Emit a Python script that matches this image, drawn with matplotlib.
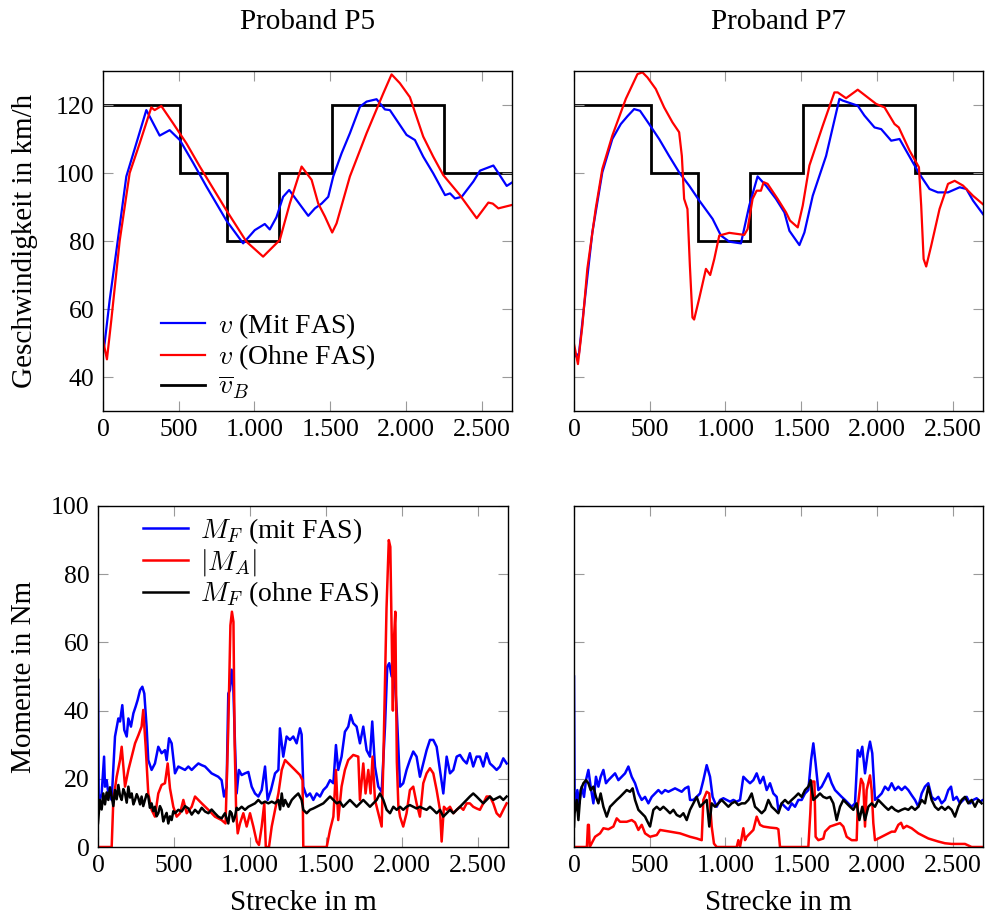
import matplotlib
matplotlib.use("Agg")
import matplotlib.pyplot as plt
from matplotlib.ticker import FuncFormatter

plt.rcParams['font.family'] = ['Liberation Serif', 'DejaVu Serif']
plt.rcParams['mathtext.fontset'] = 'cm'

# --- Geschwindigkeitsvorgabe (Stufen) ---
limit_edges = [0, 510, 820, 1160, 1515, 2250, 2700]
limit_v = [120, 100, 80, 100, 120, 100]

# --- Proband P5: Geschwindigkeit ---
p5_mit_x = [0, 11, 44, 88, 154, 220, 286, 374, 440, 507, 595, 683, 815, 925, 1002, 1068, 1101,
            1145, 1189, 1229, 1355, 1399, 1443, 1487, 1520, 1575, 1630, 1696, 1740, 1806, 1861,
            1894, 2004, 2059, 2114, 2180, 2258, 2291, 2324, 2368, 2445, 2489, 2577, 2610, 2665, 2700]
p5_mit_v = [47, 50, 62.6, 77, 99, 108.7, 118.5, 111, 112.6, 109.7, 103, 96, 86, 79.3, 83.2, 85, 83.4,
            87, 93, 95, 87.4, 89.6, 91, 93, 99, 105.8, 111.7, 119.5, 121, 121.7, 118.7,
            118.5, 111.2, 109.7, 104.8, 99.9, 93.5, 94, 92.5, 93, 97.5, 100.7, 102.2, 100, 96.2, 97.2]

p5_ohne_x = [0, 4, 26, 55, 110, 176, 242, 319, 341, 385, 463, 551, 639, 815, 947, 1057, 1167, 1233,
             1311, 1377, 1421, 1465, 1513, 1542, 1630, 1740, 1850, 1905, 1960, 2026, 2114, 2180,
             2246, 2356, 2467, 2544, 2573, 2610, 2700]
p5_ohne_v = [52, 50, 45.2, 56.8, 80, 100, 108.7, 119.3, 118.5, 119.7, 114.6, 108.7, 101.9, 89, 79.8,
             75.4, 80.3, 91, 101.9, 98, 91, 87.2, 82.5, 85.2, 99, 111.7, 123.4, 129, 126.4, 122.3,
             110.7, 104.8, 99.4, 93.5, 86.7, 91.3, 91, 89.6, 90.6]

# --- Proband P7: Geschwindigkeit ---
p7_mit_x = [0, 15, 33, 77, 121, 187, 253, 309, 353, 397, 436, 496, 562, 628, 694, 760, 827, 915, 970,
            1025, 1102, 1157, 1212, 1267, 1333, 1389, 1422, 1488, 1521, 1576, 1664, 1752, 1774, 1873,
            1917, 1984, 2028, 2094, 2149, 2237, 2281, 2347, 2402, 2469, 2546, 2590, 2634, 2700]
p7_mit_v = [48, 46, 47, 65, 82.5, 100.2, 110, 114.4, 116.7, 118.8, 118.3, 114.4, 110, 105, 100.2, 96.3,
            91.9, 86.5, 81.6, 79.8, 79.3, 90.4, 99, 96.3, 92.4, 88.4, 83, 78.8, 82.5, 93.3, 105, 121.8,
            121.3, 119.8, 116.9, 113.4, 112.9, 109.5, 110, 103.1, 99.7, 95.3, 94.3, 94.3, 95.8, 95.3,
            91.9, 87.9]

p7_ohne_x = [0, 26, 55, 88, 143, 187, 253, 342, 419, 452, 485, 540, 595, 650, 694, 712, 727, 749, 765,
             782, 793, 826, 871, 899, 926, 959, 1025, 1124, 1146, 1179, 1206, 1234, 1252, 1278, 1344,
             1400, 1426, 1477, 1510, 1554, 1642, 1719, 1741, 1796, 1873, 1995, 2050, 2116, 2144, 2215,
             2277, 2292, 2308, 2325, 2358, 2413, 2469, 2513, 2568, 2634, 2700]
p7_ohne_v = [49.7, 43.8, 55, 71.8, 89.4, 101.2, 111, 121.8, 129.1, 129.6, 128.1, 124.7, 119.3, 114.9,
             112, 105, 92.4, 89.4, 72.7, 57.5, 56.9, 63, 71.8, 70, 74.7, 81.6, 82.4, 81.8, 83.5, 92.4,
             94.8, 94.8, 97.3, 96.8, 92.4, 88.4, 86, 84, 90.4, 102.2, 113.9, 123.7, 123.7, 122, 124.5,
             120.3, 119.3, 114.4, 113.4, 106.6, 101.7, 90.4, 74.7, 72.5, 78.6, 89.4, 96.8, 97.7, 96.3,
             93.3, 90.8]

# --- Proband P5: Momente ---
p5_mf_mit_x = [0, 5, 13, 24, 40, 46, 57, 68, 90, 112, 134, 145, 160, 173, 189, 200, 217, 233, 248, 261,
               277, 292, 305, 320, 331, 353, 375, 397, 419, 441, 452, 468, 485, 507, 529, 551, 573, 595,
               617, 639, 661, 683, 705, 727, 748, 770, 792, 814, 830, 847, 858, 869, 880, 891, 902, 913,
               928, 946, 968, 990, 1012, 1034, 1056, 1078, 1100, 1117, 1139, 1166, 1188, 1198, 1220,
               1242, 1264, 1286, 1308, 1330, 1341, 1352, 1374, 1396, 1418, 1440, 1462, 1484, 1506, 1528,
               1550, 1567, 1582, 1604, 1626, 1648, 1664, 1681, 1703, 1725, 1747, 1769, 1791, 1806, 1824,
               1846, 1868, 1890, 1905, 1918, 1934, 1949, 1967, 1989, 2010, 2032, 2054, 2076, 2098, 2120,
               2142, 2164, 2186, 2208, 2230, 2252, 2274, 2296, 2318, 2340, 2362, 2384, 2406, 2428, 2449,
               2471, 2493, 2515, 2537, 2559, 2581, 2603, 2625, 2647, 2669, 2691]
p5_mf_mit = [49, 12.8, 14, 15.7, 26.5, 17.7, 19.6, 15.7, 13.8, 32.4, 37.7, 36.8, 41.6, 34.3, 32.4, 37.7,
             35.3, 39.2, 41.2, 43.1, 46, 47, 45, 35.3, 25.5, 22.6, 24.5, 29.4, 27.5, 28.4, 25.5, 31.9,
             30.4, 21.6, 23.6, 23.1, 22.6, 23.6, 22.6, 23.6, 24.5, 24, 23.6, 22.6, 21.6, 21.1, 20.6,
             19.6, 14.8, 17.7, 45, 46, 52, 47, 30.4, 15.7, 22.6, 21.1, 21.6, 22, 17.7, 15.7, 14.8, 16.7,
             23.6, 13.8, 16.7, 21.6, 22.6, 34.8, 26.5, 32.4, 31.4, 32.4, 30.4, 34.8, 33, 17.7, 14.8,
             15.7, 13.8, 15.7, 14.8, 16.7, 17.7, 19.6, 18.7, 29.9, 22.6, 26.5, 33.8, 35.3, 38.7, 36.3,
             35.3, 30.4, 35.3, 28.4, 26.5, 36.8, 23.6, 17.7, 16.2, 35.3, 52.9, 53.9, 50, 52.9, 40.2,
             17.7, 18.7, 22.6, 25.5, 28, 26.5, 20.6, 24.5, 28.4, 31.4, 31.4, 29.4, 22.6, 15.7, 26.5,
             21.6, 22.6, 26.5, 27, 25.5, 24.5, 27.5, 23.6, 26.5, 26.5, 23.6, 27.5, 24.5, 23.6, 22.6,
             23.6, 26, 24.5]

p5_ma_x = [0, 90, 101, 123, 145, 156, 167, 178, 200, 222, 244, 266, 287, 298, 314, 331, 353, 375, 397,
           419, 441, 459, 474, 496, 518, 540, 562, 584, 617, 639, 661, 683, 727, 770, 814, 840, 858,
           872, 882, 892, 900, 910, 920, 935, 957, 979, 1001, 1023, 1045, 1060, 1078, 1095, 1105, 1126,
           1144, 1166, 1188, 1210, 1232, 1254, 1297, 1330, 1347, 1352, 1506, 1528, 1550, 1567, 1582,
           1604, 1626, 1648, 1681, 1714, 1725, 1747, 1762, 1780, 1795, 1808, 1824, 1846, 1868, 1879,
           1900, 1915, 1925, 1942, 1948, 1958, 1962, 1968, 1978, 1989, 2010, 2032, 2054, 2076, 2098,
           2120, 2142, 2164, 2186, 2208, 2230, 2252, 2263, 2278, 2296, 2318, 2340, 2362, 2384, 2406,
           2428, 2449, 2471, 2493, 2515, 2537, 2559, 2581, 2603, 2625, 2647, 2669, 2691]
p5_ma = [0, 0, 13.8, 20.6, 25.5, 29.4, 23.6, 17.7, 22.6, 26.5, 30.4, 32.8, 35.3, 40.2, 29.4, 15.7, 10.9,
         8.9, 15.7, 18.2, 18.7, 24.5, 17.2, 11.8, 8.9, 9.9, 13.8, 9.9, 11.8, 14.8, 13.8, 12.8, 10.9,
         8.9, 7.9, 6.9, 35, 65, 69, 66, 30, 10, 4, 6.9, 9.9, 6, 9.9, 6, 1.6, 0.6, 6, 12.8, 0, 0, 6,
         10.9, 15.7, 22.6, 25.5, 24.5, 22.6, 21.1, 19.6, 0, 0, 5, 8.9, 22.6, 7.9, 17.7, 22.6, 25.5,
         27, 26.5, 13.8, 24.5, 15.7, 22.6, 15.7, 26.5, 13.8, 9.9, 6, 25, 70, 90, 88, 40, 60, 69, 50,
         25, 12, 8.9, 6, 9.9, 16.7, 17.7, 12.8, 8.9, 18.7, 21.6, 23.1, 21.6, 16.7, 10.9, 1.6, 11.8,
         10.9, 11.8, 9.9, 10.9, 11.8, 10.9, 12.8, 12.8, 11.8, 11.3, 10.9, 12.8, 14.8, 14.8, 12.8, 9.9,
         8.9, 10.9, 12.8]

p5_mf_ohne_x = [0, 12, 24, 35, 46, 57, 68, 79, 90, 101, 112, 123, 134, 145, 156, 167, 178, 189, 200, 211,
                222, 233, 244, 255, 266, 277, 287, 298, 309, 320, 331, 342, 353, 364, 375, 386, 397,
                408, 419, 430, 441, 452, 463, 474, 485, 496, 507, 529, 551, 573, 595, 617, 639, 661,
                683, 705, 727, 748, 770, 792, 814, 836, 858, 869, 880, 891, 902, 913, 924, 946, 968,
                990, 1012, 1034, 1056, 1078, 1100, 1122, 1144, 1166, 1188, 1199, 1210, 1221, 1232,
                1254, 1276, 1297, 1319, 1341, 1352, 1374, 1396, 1418, 1440, 1462, 1484, 1506, 1528,
                1550, 1572, 1593, 1615, 1637, 1659, 1681, 1703, 1725, 1747, 1769, 1791, 1813, 1835,
                1857, 1879, 1901, 1923, 1945, 1967, 1989, 2010, 2032, 2054, 2076, 2098, 2120, 2142,
                2164, 2186, 2208, 2230, 2252, 2274, 2296, 2318, 2340, 2362, 2384, 2406, 2428, 2449,
                2471, 2493, 2515, 2537, 2559, 2581, 2603, 2625, 2647, 2669, 2691]
p5_mf_ohne = [7, 13.8, 11, 15.7, 12.5, 16, 13.8, 17.5, 14.8, 12, 16.7, 14, 18.2, 15, 13.8, 17, 15.7,
              13, 17.7, 14.5, 15.7, 12.5, 13.8, 15.5, 14.3, 12.5, 14.8, 12, 13.8, 15.5, 14.8, 11.5,
              12.8, 10.5, 11.8, 9, 9.9, 12, 10.9, 7.5, 8.9, 10, 6.9, 9, 7.9, 10.5, 9.9, 10.9, 10.4,
              12, 11.3, 9.5, 10.9, 9.9, 11.5, 10.4, 9.9, 11, 9.9, 8.9, 8.4, 9.9, 6.9, 10.5, 9.9, 7.5,
              8.9, 11.5, 10.9, 11.8, 10.9, 11.8, 12.3, 12.8, 13.8, 12.8, 13.3, 12.8, 13.3, 12.8, 13.8,
              11, 15.7, 12, 13.8, 11.8, 13.8, 14.8, 15.7, 13.8, 10.9, 9.9, 10.9, 11.3, 11.8, 12.3,
              12.8, 13.8, 14.8, 13.8, 12.8, 13.3, 11.8, 12.8, 13.8, 12.8, 11.8, 12.8, 13.8, 12.8,
              11.8, 12.8, 13.8, 15.7, 13.8, 10.9, 9.9, 11.8, 10.9, 11.8, 10.9, 11.8, 12.3, 11.8, 11.3,
              11.8, 11.3, 10.9, 11.8, 10.9, 9.9, 10.9, 8.9, 9.9, 10.9, 9.9, 10.9, 11.8, 12.8, 13.8,
              14.8, 15.7, 14.8, 13.8, 12.8, 13.8, 14.8, 13.8, 14.3, 14.8, 13.8, 14.8]

# --- Proband P7: Momente ---
p7_mf_mit_x = [0, 4, 13, 22, 35, 51, 66, 79, 95, 110, 128, 145, 161, 176, 194, 211, 227, 249, 271, 293,
               315, 337, 359, 381, 403, 425, 447, 469, 491, 513, 535, 557, 579, 601, 623, 645, 667,
               689, 711, 733, 755, 766, 788, 810, 832, 854, 876, 898, 915, 942, 964, 986, 1008, 1030,
               1052, 1074, 1096, 1118, 1140, 1162, 1184, 1206, 1228, 1250, 1272, 1294, 1316, 1338,
               1349, 1371, 1393, 1415, 1437, 1459, 1481, 1503, 1525, 1547, 1565, 1580, 1595, 1613,
               1635, 1657, 1679, 1701, 1723, 1745, 1767, 1789, 1811, 1833, 1855, 1873, 1888, 1903,
               1921, 1939, 1954, 1969, 1987, 2009, 2031, 2053, 2075, 2097, 2119, 2141, 2163, 2185,
               2207, 2229, 2251, 2273, 2295, 2317, 2339, 2361, 2383, 2405, 2427, 2449, 2471, 2489,
               2504, 2526, 2548, 2570, 2592, 2614, 2636, 2658, 2680, 2700]
p7_mf_mit = [50, 14, 11.8, 16.7, 12.8, 17.7, 14.7, 19.6, 22.6, 17.7, 12.8, 20.6, 17.7, 20.6, 22.6, 18.7,
             19.6, 20.6, 21.6, 19.6, 20.6, 21.6, 23.6, 20.6, 18.7, 15.7, 13.8, 14.7, 12.8, 14.7, 15.7,
             16.7, 15.7, 16.7, 16.2, 16.7, 17.2, 16.7, 16.2, 17.2, 17.7, 13.8, 13.8, 14.7, 15.7, 19.6,
             24, 20.6, 14.7, 11.8, 13.8, 14.3, 13.8, 13.3, 13.8, 13.3, 13.8, 20.6, 19.6, 18.7, 19.6,
             21.6, 18.7, 20.6, 16.7, 18.7, 15.7, 14.7, 10.9, 12.8, 11.8, 10.9, 12.8, 11.8, 13.8, 13.8,
             15.7, 16.7, 25.5, 30.4, 24.5, 16.7, 17.7, 19.6, 21.6, 18.7, 16.7, 15.7, 14.7, 13.8, 12.8,
             11.8, 12.8, 28.4, 26.5, 29.4, 21.6, 27.5, 30.9, 27.5, 13.8, 14.7, 15.7, 17.7, 16.7, 18.7,
             16.7, 17.7, 16.7, 17.7, 16.7, 15.2, 13.8, 11.8, 15.7, 17.7, 18.7, 14.7, 13.8, 14.7, 12.8,
             13.8, 16.7, 17.7, 13.8, 14.7, 12.8, 13.8, 14.7, 12.8, 13.8, 14.3, 13.3, 13.8]

p7_ma_x = [0, 85, 92, 98, 104, 139, 172, 194, 227, 260, 282, 304, 348, 381, 403, 425, 447, 469, 502,
           546, 568, 634, 700, 766, 810, 843, 854, 876, 893, 909, 924, 942, 1074, 1085, 1096, 1118,
           1129, 1140, 1162, 1184, 1206, 1228, 1250, 1294, 1338, 1349, 1360, 1547, 1560, 1569, 1587,
           1595, 1613, 1646, 1657, 1690, 1723, 1756, 1778, 1800, 1833, 1866, 1873, 1895, 1910, 1921,
           1932, 1954, 1965, 1976, 1987, 2009, 2053, 2075, 2097, 2119, 2141, 2159, 2174, 2196, 2229,
           2273, 2339, 2405, 2449, 2493, 2581, 2625, 2700]
p7_ma = [0, 0, 6.5, 6.5, 0, 3, 4, 5.5, 5.2, 6, 8.4, 7.4, 7.4, 7.9, 7.2, 5, 6.5, 4, 3, 3.5, 5, 4.5, 4,
         3, 2.5, 2, 13.8, 16.2, 15.7, 6, 1, 0, 0, 2, 0, 5.5, 2, 3, 4, 5, 8.9, 6.5, 6, 5.7, 5.5, 5.2,
         0, 0, 10, 19.2, 19.2, 3, 2, 2.5, 4.5, 6, 6.5, 7, 6, 3, 2, 2, 11.8, 20, 18.5, 6, 16.7, 21,
         16.7, 7, 2, 2.5, 3.5, 4, 4.5, 4.5, 6.5, 7.1, 5.5, 6.2, 5.5, 4, 2.5, 1.6, 1.1, 0.9, 0.9, 0, 0]

p7_mf_ohne_x = [0, 4, 18, 29, 44, 62, 79, 95, 110, 128, 145, 161, 176, 194, 216, 238, 260, 282, 304,
                326, 348, 370, 387, 403, 425, 447, 469, 491, 502, 524, 546, 568, 590, 612, 634, 656,
                678, 700, 722, 744, 766, 788, 810, 832, 854, 876, 893, 909, 931, 953, 975, 997, 1019,
                1041, 1063, 1085, 1107, 1129, 1151, 1173, 1195, 1217, 1239, 1261, 1283, 1305, 1327,
                1349, 1371, 1393, 1415, 1437, 1459, 1481, 1503, 1525, 1547, 1562, 1580, 1602, 1624,
                1646, 1668, 1690, 1712, 1734, 1756, 1778, 1800, 1822, 1844, 1866, 1884, 1903, 1921,
                1943, 1965, 1987, 2009, 2031, 2053, 2075, 2097, 2119, 2141, 2163, 2185, 2207, 2229,
                2251, 2273, 2295, 2317, 2339, 2361, 2383, 2405, 2427, 2449, 2471, 2493, 2515, 2537,
                2559, 2581, 2603, 2625, 2647, 2669, 2691]
p7_mf_ohne = [6, 9.9, 13.8, 7.9, 16.7, 18.7, 19.6, 18.7, 16.7, 17.7, 14.7, 12.8, 15.7, 11.8, 8.9, 11.8,
              12.8, 13.8, 14.7, 15.7, 16.7, 16.2, 17.2, 13.8, 10.9, 9.9, 8.9, 6.9, 6, 10.9, 11.8,
              10.9, 11.8, 10.9, 9.9, 10.9, 9.4, 8.9, 9.9, 7.9, 10.9, 12.8, 14.7, 11.8, 12.8, 13.8, 6,
              12.8, 11.8, 12.8, 13.8, 12.8, 11.8, 12.8, 13.3, 12.3, 12.8, 12.8, 13.8, 15.7, 11.8, 10.9,
              9.9, 10.9, 13.8, 11.8, 10.9, 9.9, 12.8, 13.8, 12.8, 13.8, 14.7, 15.7, 14.7, 16.7, 17.7,
              19.6, 13.8, 14.7, 15.7, 14.7, 14.3, 14.7, 12.8, 7.9, 11.8, 13.8, 12.8, 11.8, 10.9, 12.8,
              7.9, 11.8, 7.9, 11.8, 12.8, 11.8, 13.8, 12.8, 11.8, 10.9, 11.8, 10.9, 10.4, 10.9, 11.3,
              10.9, 11.8, 10.9, 11.8, 13.8, 12.8, 17.7, 13.8, 11.8, 10.9, 11.8, 10.9, 11.8, 10.9, 8.9,
              11.8, 13.8, 14.7, 12.8, 13.8, 11.8, 13.8, 12.8]

x_ticks = [0, 500, 1000, 1500, 2000, 2500]


def thousands(v, pos):
    return f"{int(v):,}".replace(",", ".")


def style_axis(ax, ymin, ymax, yticks):
    ax.set_xlim(0, 2700)
    ax.set_ylim(ymin, ymax)
    ax.set_xticks(x_ticks)
    ax.set_yticks(yticks)
    ax.xaxis.set_major_formatter(FuncFormatter(thousands))
    ax.tick_params(direction='in', top=True, right=True, length=7, width=0.8,
                   color='#9a9a9a', labelsize=18.5, pad=6)
    for s in ax.spines.values():
        s.set_linewidth(1.0)


fig = plt.figure(figsize=(9.89, 9.18), dpi=100)
W, H = 989, 918


def add_ax(x0, y0, x1, y1):
    return fig.add_axes([x0 / W, 1 - y1 / H, (x1 - x0) / W, (y1 - y0) / H])


ax1 = add_ax(103, 71, 512, 411)
ax2 = add_ax(574, 71, 983, 411)
ax3 = add_ax(98, 506, 508, 847)
ax4 = add_ax(574, 506, 983, 847)

lw = 1.6
lw_m = 1.8
# top left
ax1.plot(p5_mit_x, p5_mit_v, color='blue', lw=lw, label=r'$v$ (Mit FAS)')
ax1.plot(p5_ohne_x, p5_ohne_v, color='red', lw=lw, label=r'$v$ (Ohne FAS)')
ax1.stairs(limit_v, limit_edges, baseline=None, color='black', lw=2.0, label=r'$\overline{v}_B$')
# top right
ax2.plot(p7_mit_x, p7_mit_v, color='blue', lw=lw)
ax2.plot(p7_ohne_x, p7_ohne_v, color='red', lw=lw)
ax2.stairs(limit_v, limit_edges, baseline=None, color='black', lw=2.0)
# bottom left
ax3.plot(p5_mf_mit_x, p5_mf_mit, color='blue', lw=lw_m, label=r'$M_F$ (mit FAS)')
ax3.plot(p5_ma_x, p5_ma, color='red', lw=lw_m, label=r'$|M_A|$')
ax3.plot(p5_mf_ohne_x, p5_mf_ohne, color='black', lw=lw_m, label=r'$M_F$ (ohne FAS)')
# bottom right
ax4.plot(p7_mf_mit_x, p7_mf_mit, color='blue', lw=lw_m)
ax4.plot(p7_ma_x, p7_ma, color='red', lw=lw_m)
ax4.plot(p7_mf_ohne_x, p7_mf_ohne, color='black', lw=lw_m)

for ax in (ax1, ax2):
    style_axis(ax, 30, 130, [40, 60, 80, 100, 120])
for ax in (ax3, ax4):
    style_axis(ax, 0, 100, [0, 20, 40, 60, 80, 100])
ax2.tick_params(labelleft=False)
ax4.tick_params(labelleft=False)

label_size = 21
ax1.set_ylabel('Geschwindigkeit in km/h', fontsize=label_size)
ax1.yaxis.set_label_coords(-0.16, 0.5)
ax3.set_ylabel('Momente in Nm', fontsize=label_size)
ax3.yaxis.set_label_coords(-0.15, 0.5)
for ax in (ax3, ax4):
    ax.set_xlabel('Strecke in m', fontsize=label_size)
    ax.xaxis.set_label_coords(0.5, -0.125)

fig.text((103 + 512) / 2 / W, 1 - 22 / H, 'Proband P5', ha='center', va='center', fontsize=label_size)
fig.text((574 + 983) / 2 / W, 1 - 22 / H, 'Proband P7', ha='center', va='center', fontsize=label_size)

ax1.legend(loc='lower left', bbox_to_anchor=(0.1, -0.02), frameon=False, fontsize=20,
           handlelength=1.6, handletextpad=0.45, labelspacing=0.05, borderaxespad=0.2)
ax3.legend(loc='upper left', bbox_to_anchor=(0.07, 1.02), frameon=False, fontsize=20,
           handlelength=1.6, handletextpad=0.45, labelspacing=0.05, borderaxespad=0.2)

fig.savefig('out.png', dpi=100)
